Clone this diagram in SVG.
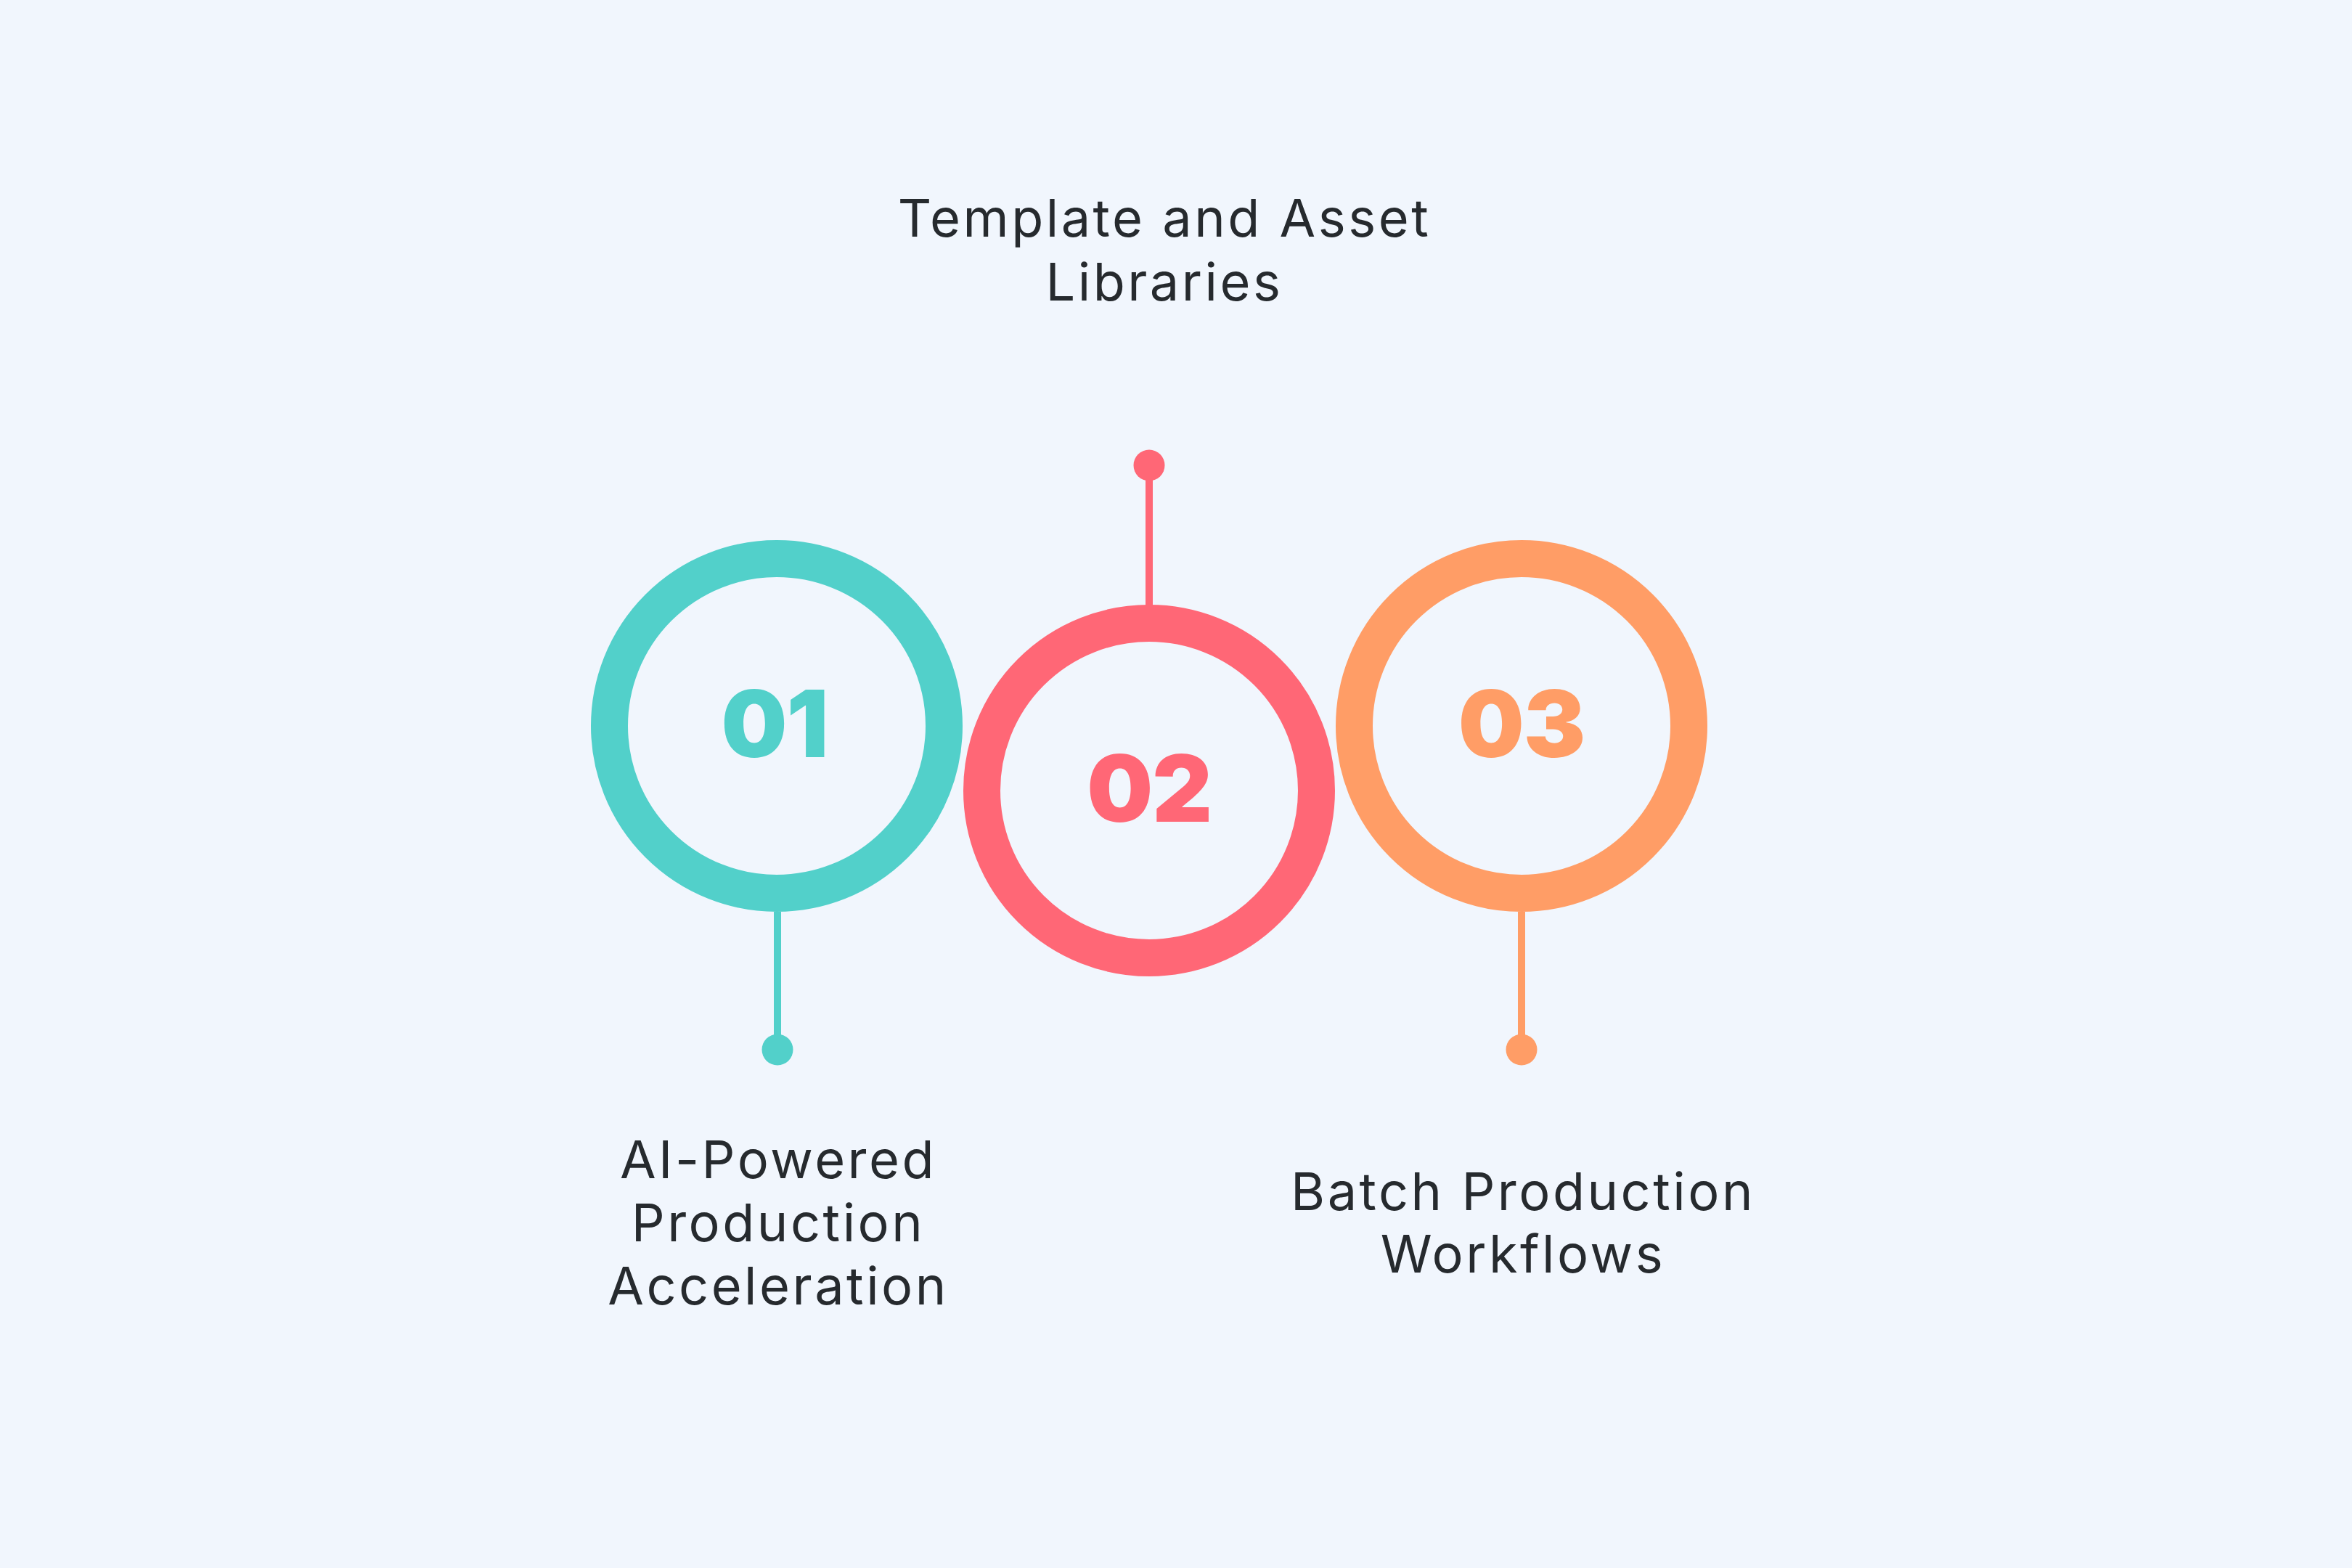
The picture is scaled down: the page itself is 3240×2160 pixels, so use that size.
<svg xmlns="http://www.w3.org/2000/svg" width="3240" height="2160" viewBox="0 0 3240 2160">
<style>
.ring{fill:none;stroke-width:51}
.num{font-family:Inter,"Noto Sans",sans-serif;font-weight:900;font-size:128px;text-anchor:middle;letter-spacing:-1px}
.lbl{font-family:Inter,"Noto Sans",sans-serif;font-weight:400;font-size:72px;fill:#262a2e;text-anchor:middle;letter-spacing:3.5px}
.stem{stroke-width:10}
</style>
<rect width="3240" height="2160" fill="#F1F6FD"/>
<g id="connectors">
<line class="stem" x1="1071" y1="1256" x2="1071" y2="1446" stroke="#52D0CA"/>
<circle cx="1071" cy="1446" r="21.5" fill="#52D0CA"/>
<line class="stem" x1="1583" y1="641" x2="1583" y2="835" stroke="#FF6776"/>
<circle cx="1583" cy="641" r="21.5" fill="#FF6776"/>
<line class="stem" x1="2096" y1="1256" x2="2096" y2="1446" stroke="#FF9D66"/>
<circle cx="2096" cy="1446" r="21.5" fill="#FF9D66"/>
</g>
<g id="node1">
<circle class="ring" cx="1070" cy="1000" r="230.5" stroke="#52D0CA"/>
<text class="num" x="1067" y="1043" fill="#52D0CA">01</text>
<text class="lbl"><tspan x="1072" y="1623">AI-Powered</tspan><tspan x="1072" y="1710">Production</tspan><tspan x="1072" y="1797">Acceleration</tspan></text>
</g>
<g id="node2">
<circle class="ring" cx="1583" cy="1089" r="230.5" stroke="#FF6776"/>
<text class="num" x="1583" y="1132" fill="#FF6776">02</text>
<text class="lbl"><tspan x="1604" y="326">Template and Asset</tspan><tspan x="1604" y="414">Libraries</tspan></text>
</g>
<g id="node3">
<circle class="ring" cx="2096" cy="1000" r="230.5" stroke="#FF9D66"/>
<text class="num" x="2096" y="1043" fill="#FF9D66">03</text>
<text class="lbl"><tspan x="2098" y="1667">Batch Production</tspan><tspan x="2098" y="1753">Workflows</tspan></text>
</g>
</svg>
